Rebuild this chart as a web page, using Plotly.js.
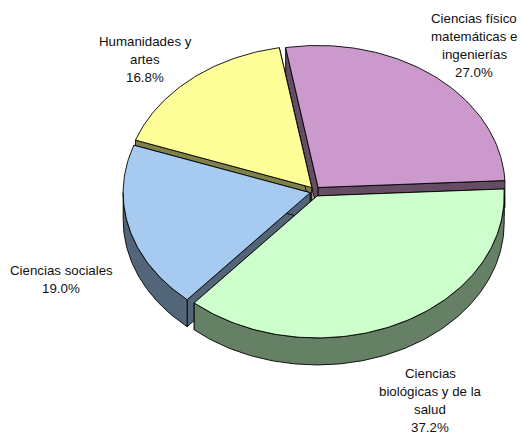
<!DOCTYPE html>
<html>
<head>
<meta charset="utf-8">
<script src="https://cdn.plot.ly/plotly-3.0.1.min.js"></script>
<style>html,body{margin:0;padding:0;background:#fff}#c{width:521px;height:435px}</style>
</head>
<body>
<div id="c"></div>
<script>
// Data
const categories = ['Ciencias físico|matemáticas e|ingenierías', 'Ciencias|biológicas y de la|salud', 'Ciencias sociales', 'Humanidades y|artes'];
const shares = [27.0, 37.2, 19.0, 16.8];
// Styles
const faceColors = ['#CC99CC', '#CCFFCC', '#A6CAF0', '#FFFF99'];
const wallColors = ['#664D66', '#668066', '#536578', '#80804D'];
// Geometry of the projected pie
const centre = {x: 315, y: 191.4}, radii = {x: 187, y: 142}, depth = 27, explode = 5, startAngle = -10;
const labelAnchors = [{x: 474, y: 18}, {x: 430, y: 373}, {x: 61, y: 270}, {x: 145, y: 41}];
const lineStep = 18.3;
const drawOrder = [0, 3, 2, 1];

const rad = d => d * Math.PI / 180;
const total = shares.reduce((a, b) => a + b, 0);
let cursor = startAngle;
const wedges = shares.map((v, i) => {
  const t0 = cursor, t1 = cursor + v / total * 360;
  cursor = t1;
  const mid = rad((t0 + t1) / 2);
  const apex = {x: centre.x + explode * Math.sin(mid), y: centre.y - explode * Math.cos(mid)};
  return {t0, t1, apex, i};
});
function arc(w, a, b, dy) {
  const pts = [], n = Math.max(1, Math.ceil(Math.abs(b - a)));
  for (let k = 0; k <= n; k++) {
    const t = rad(a + (b - a) * k / n);
    pts.push({x: w.apex.x + radii.x * Math.sin(t), y: w.apex.y - radii.y * Math.cos(t) + dy});
  }
  return pts;
}
function poly(pts, fill) {
  const p = pts.concat([pts[0]]);
  return {x: p.map(q => q.x), y: p.map(q => q.y), type: 'scatter', mode: 'lines', fill: 'toself',
    fillcolor: fill, line: {color: '#000', width: 0.9}, hoverinfo: 'skip', showlegend: false};
}
const traces = [];
drawOrder.forEach(idx => {
  const w = wedges[idx];
  const low = {x: w.apex.x, y: w.apex.y + depth};
  const end0 = arc(w, w.t0, w.t0, 0)[0], end1 = arc(w, w.t1, w.t1, 0)[0];
  traces.push(poly([w.apex, end0, {x: end0.x, y: end0.y + depth}, low], wallColors[idx]));
  traces.push(poly([w.apex, end1, {x: end1.x, y: end1.y + depth}, low], wallColors[idx]));
  const a = Math.max(w.t0, 90), b = Math.min(w.t1, 270);
  if (b > a) traces.push(poly(arc(w, a, b, 0).concat(arc(w, b, a, depth)), wallColors[idx]));
  traces.push(poly([w.apex].concat(arc(w, w.t0, w.t1, 0)), faceColors[idx]));
});
const annotations = [];
categories.forEach((c, i) => {
  const lines = c.split('|').concat([shares[i].toFixed(1) + '%']);
  lines.forEach((s, k) => annotations.push({
    x: labelAnchors[i].x, y: labelAnchors[i].y + k * lineStep, text: s, showarrow: false,
    xanchor: 'center', yanchor: 'middle', xref: 'x', yref: 'y',
    font: {family: 'Liberation Sans, Arial, sans-serif', size: 13.3, color: '#111'}
  }));
});
Plotly.newPlot('c', traces, {
  width: 521, height: 435, margin: {l: 0, r: 0, t: 0, b: 0},
  paper_bgcolor: '#fff', plot_bgcolor: '#fff', showlegend: false,
  xaxis: {range: [0, 521], visible: false, fixedrange: true},
  yaxis: {range: [435, 0], visible: false, fixedrange: true},
  annotations
}, {displayModeBar: false, staticPlot: true});
</script>
</body>
</html>
